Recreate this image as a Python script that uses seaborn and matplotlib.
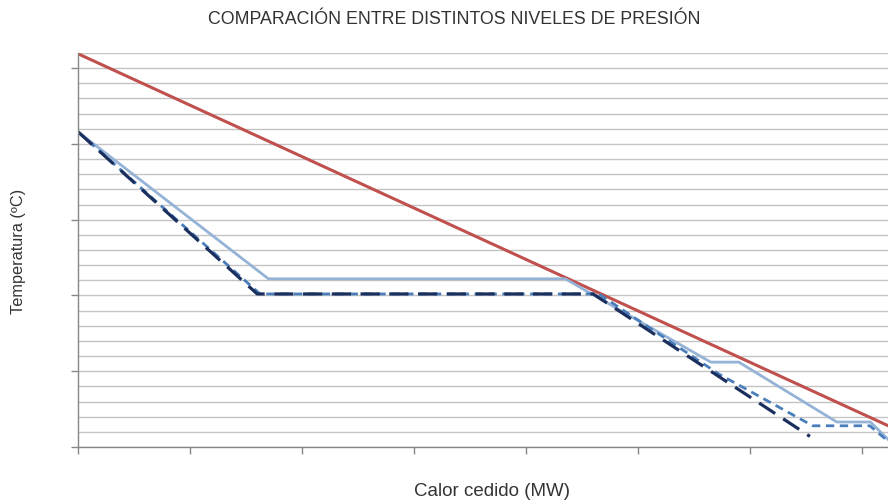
import numpy as np
import pandas as pd
import matplotlib
matplotlib.use("Agg")
import matplotlib.pyplot as plt
import seaborn as sns

# Composite curves: heat released (MW) vs temperature (ºC)
gas_q = [0, 150]
gas_t = [519, 10]

agua_a_q = [0, 34, 87, 113, 118, 135.5, 141.5, 147]
agua_a_t = [416, 222, 222, 112, 112, 33, 33, -7]

agua_b_q = [0, 32.5, 93, 114.5, 131.2, 141.4, 147]
agua_b_t = [416, 202, 202, 96, 28, 28, -7]

agua_c_q = [0, 32, 92, 130.7]
agua_c_t = [416, 202, 202, 14]

sns.set_style("white")
plt.rcParams["font.family"] = ["Liberation Sans", "DejaVu Sans"]

fig = plt.figure(figsize=(8.88, 5.03), dpi=100)
ax = fig.add_axes([78 / 888, 56 / 503, 810 / 888, 394 / 503])

series = [
    (gas_q, gas_t, "#C0504D", 2.2, None),
    (agua_a_q, agua_a_t, "#95B3D7", 2.0, None),
    (agua_b_q, agua_b_t, "#4A7EBB", 2.0, (3, 2)),
    (agua_c_q, agua_c_t, "#1B2F5E", 2.3, (6, 3)),
]
for q, t, color, lw, dash in series:
    df = pd.DataFrame({"q": q, "t": t})
    line_ax = sns.lineplot(data=df, x="q", y="t", sort=False, ax=ax,
                           color=color, linewidth=lw)
    if dash is not None:
        line_ax.lines[-1].set_dashes(dash)

ax.set_xlim(0, 810 / 5.6)
ax.set_ylim(0, 520)
ax.set_xticks(np.arange(0, 145, 20))
ax.set_yticks(np.arange(0, 521, 100))
ax.set_yticks(np.arange(0, 521, 20), minor=True)
ax.set_xticklabels([])
ax.set_yticklabels([])
ax.grid(True, axis="y", which="both", color="#C4C4C4", linewidth=1.0)
ax.set_axisbelow(True)

for side in ("top", "right"):
    ax.spines[side].set_visible(False)
for side in ("left", "bottom"):
    ax.spines[side].set_color("#868686")
    ax.spines[side].set_linewidth(1.0)
ax.tick_params(axis="both", which="major", direction="out", length=5,
               color="#868686", width=1.0, left=True, bottom=True)
ax.tick_params(axis="y", which="minor", length=0)

ax.set_xlabel("")
ax.set_ylabel("")
fig.text(454 / 888, 1 - 19 / 503, "COMPARACIÓN ENTRE DISTINTOS NIVELES DE PRESIÓN",
         ha="center", va="center", fontsize=12.8, color="#333333")
fig.text(492 / 888, 1 - 491 / 503, "Calor cedido (MW)",
         ha="center", va="center", fontsize=13.5, color="#333333")
fig.text(18 / 888, 1 - 251 / 503, "Temperatura (ºC)", rotation=90,
         ha="center", va="center", fontsize=11.7, color="#333333")

fig.savefig("out.png", dpi=100)
